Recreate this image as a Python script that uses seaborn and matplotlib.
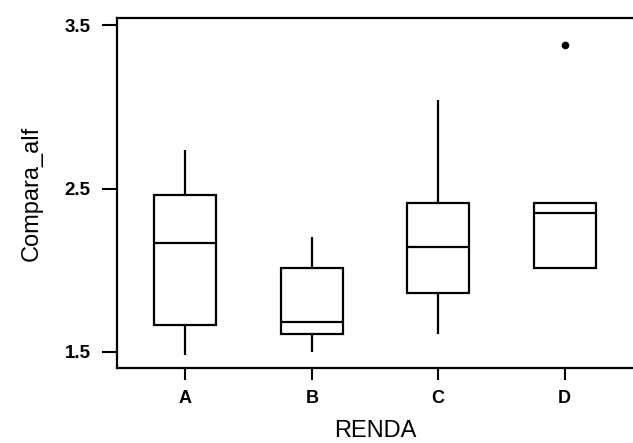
import matplotlib
matplotlib.use("Agg")
import matplotlib.pyplot as plt
import seaborn as sns
import pandas as pd

# Data (five values per group reproducing the drawn boxes)
categories = ["A", "B", "C", "D"]
values_A = [1.48, 1.662, 2.164, 2.46, 2.735]
values_B = [1.50, 1.607, 1.68, 2.01, 2.20]
values_C = [1.607, 1.858, 2.14, 2.414, 3.04]
values_D = [2.01, 2.01, 2.35, 2.414, 3.38]
yticks = [1.5, 2.5, 3.5]

df = pd.DataFrame({
    "RENDA": sum([[c] * 5 for c in categories], []),
    "Compara_alf": values_A + values_B + values_C + values_D,
})

sns.set_style("ticks")
plt.rcParams["font.family"] = ["Liberation Sans", "DejaVu Sans"]
plt.rcParams["text.color"] = "black"
plt.rcParams["axes.labelcolor"] = "black"
plt.rcParams["xtick.color"] = "black"
plt.rcParams["ytick.color"] = "black"

fig = plt.figure(figsize=(6.33, 4.43), dpi=100)
ax = fig.add_axes([117 / 633, 75 / 443, 1 - 117 / 633, 350 / 443])

sns.boxplot(
    data=df, x="RENDA", y="Compara_alf", order=categories, ax=ax,
    color="white", linecolor="black", linewidth=1.6, width=0.49,
    saturation=1, showcaps=False,
    flierprops=dict(marker="o", markerfacecolor="black",
                    markeredgecolor="black", markersize=4.5),
)

ax.set_xlim(-0.54, 3.54)
ax.set_ylim(1.40, 3.545)
ax.set_yticks(yticks)
ax.set_yticklabels([f"{v:.1f}" for v in yticks], fontsize=13.5, fontweight="bold")
ax.set_xticks(range(len(categories)))
ax.set_xticklabels(categories, fontsize=13, fontweight="bold")
ax.tick_params(axis="y", length=11, width=1.5, pad=8, color="black", labelcolor="black")
ax.tick_params(axis="x", length=8.5, width=1.5, pad=7, color="black", labelcolor="black")

for side in ["left", "bottom", "top"]:
    ax.spines[side].set_visible(True)
    ax.spines[side].set_linewidth(1.6)
    ax.spines[side].set_color("black")
ax.spines["right"].set_visible(False)

ax.set_xlabel("RENDA", fontsize=17, labelpad=10, color="black")
ax.set_ylabel("Compara_alf", fontsize=17, labelpad=16, color="black")

fig.savefig("out.png", dpi=100)
